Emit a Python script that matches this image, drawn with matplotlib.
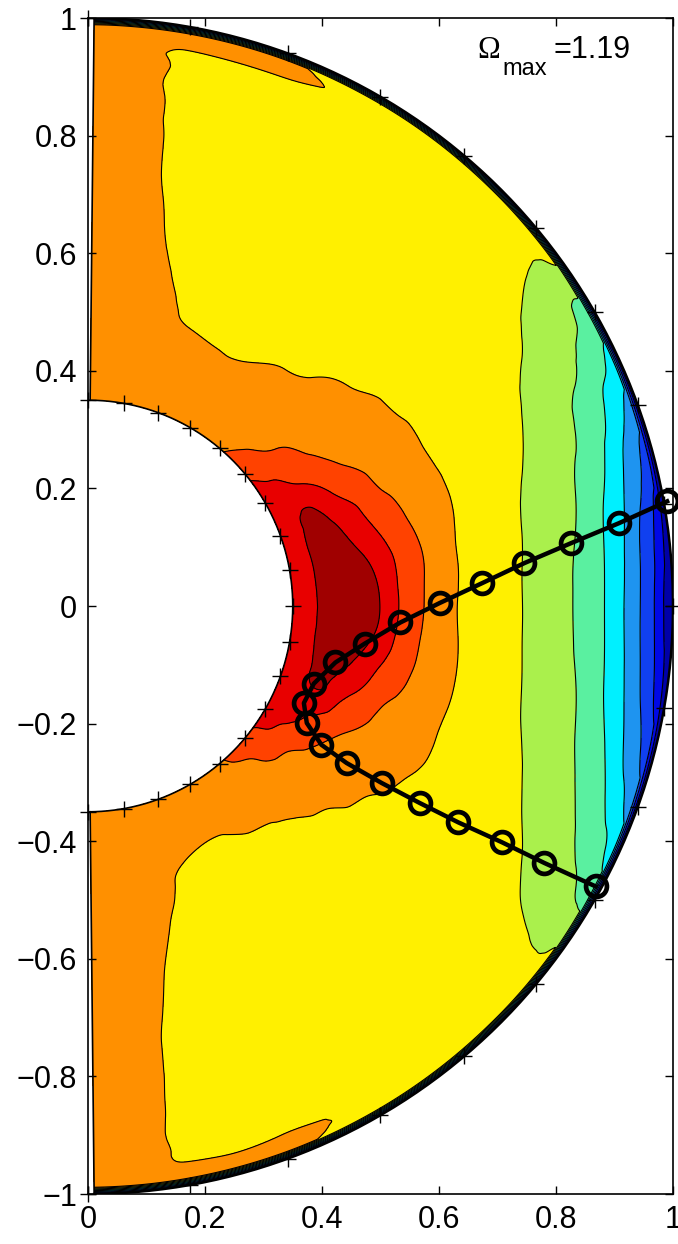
import numpy as np
import matplotlib
matplotlib.use("Agg")
import matplotlib.pyplot as plt
import matplotlib.tri as mtri

# grid of the meridional slice: inner sphere r=0.35, outer sphere r=1
radii = [0.35, 0.38, 0.42, 0.46, 0.50, 0.54, 0.58, 0.62, 0.66, 0.70,
         0.75, 0.80, 0.85, 0.88, 0.91, 0.94, 0.96, 0.975, 0.988, 1.0]

# colatitude (deg) of each row of the table below, north pole -> south pole
colatitudes = [0.6, 5, 10, 20, 30, 40, 45, 50, 55, 60, 65, 70, 75, 80, 85, 90,
               95, 100, 105, 110, 115, 120, 125, 130, 135, 140, 150, 160, 170, 175, 179.4]

# angular velocity, one row per colatitude (inner -> outer radius)
omega = [
    [0.86, 0.86, 0.86, 0.86, 0.86, 0.86, 0.86, 0.86, 0.86, 0.86, 0.855, 0.855, 0.855, 0.85, 0.85, 0.85, 0.85, 0.85, 0.84, 0.0],
    [0.86, 0.86, 0.855, 0.855, 0.85, 0.85, 0.845, 0.845, 0.84, 0.84, 0.835, 0.83, 0.83, 0.828, 0.826, 0.825, 0.825, 0.825, 0.82, 0.0],
    [0.86, 0.855, 0.85, 0.843, 0.835, 0.826, 0.818, 0.812, 0.807, 0.803, 0.798, 0.796, 0.793, 0.791, 0.79, 0.792, 0.80, 0.81, 0.805, 0.0],
    [0.865, 0.855, 0.84, 0.825, 0.802, 0.79, 0.785, 0.78, 0.775, 0.775, 0.772, 0.77, 0.77, 0.77, 0.772, 0.78, 0.802, 0.812, 0.805, 0.0],
    [0.875, 0.86, 0.84, 0.815, 0.795, 0.785, 0.78, 0.775, 0.772, 0.77, 0.77, 0.77, 0.77, 0.77, 0.77, 0.772, 0.78, 0.785, 0.78, 0.0],
    [0.895, 0.88, 0.855, 0.83, 0.81, 0.795, 0.785, 0.78, 0.775, 0.77, 0.768, 0.765, 0.765, 0.765, 0.765, 0.765, 0.765, 0.765, 0.76, 0.0],
    [0.92, 0.898, 0.87, 0.845, 0.825, 0.805, 0.79, 0.783, 0.778, 0.774, 0.77, 0.765, 0.762, 0.76, 0.758, 0.755, 0.752, 0.75, 0.745, 0.0],
    [0.975, 0.94, 0.895, 0.87, 0.85, 0.83, 0.801, 0.788, 0.78, 0.775, 0.77, 0.765, 0.758, 0.75, 0.74, 0.735, 0.73, 0.73, 0.73, 0.0],
    [1.015, 0.995, 0.955, 0.89, 0.86, 0.835, 0.815, 0.795, 0.785, 0.78, 0.775, 0.765, 0.74, 0.72, 0.697, 0.67, 0.655, 0.66, 0.68, 0.0],
    [1.04, 1.03, 0.995, 0.945, 0.885, 0.855, 0.83, 0.805, 0.785, 0.778, 0.768, 0.74, 0.705, 0.679, 0.65, 0.623, 0.604, 0.58, 0.56, 0.0],
    [1.055, 1.075, 1.08, 0.995, 0.94, 0.875, 0.849, 0.817, 0.785, 0.78, 0.755, 0.715, 0.67, 0.641, 0.612, 0.565, 0.529, 0.502, 0.466, 0.0],
    [1.06, 1.085, 1.115, 1.06, 0.982, 0.912, 0.866, 0.826, 0.787, 0.772, 0.74, 0.69, 0.639, 0.609, 0.559, 0.502, 0.444, 0.40, 0.355, 0.0],
    [1.062, 1.08, 1.145, 1.095, 1.015, 0.944, 0.881, 0.831, 0.787, 0.757, 0.715, 0.667, 0.615, 0.569, 0.51, 0.425, 0.362, 0.31, 0.26, 0.0],
    [1.065, 1.075, 1.155, 1.14, 1.057, 0.973, 0.896, 0.826, 0.778, 0.748, 0.703, 0.65, 0.596, 0.535, 0.462, 0.366, 0.296, 0.235, 0.17, 0.0],
    [1.065, 1.075, 1.155, 1.17, 1.087, 0.976, 0.895, 0.822, 0.775, 0.74, 0.695, 0.641, 0.575, 0.516, 0.431, 0.331, 0.252, 0.182, 0.106, 0.0],
    [1.065, 1.075, 1.15, 1.175, 1.097, 0.976, 0.889, 0.815, 0.772, 0.737, 0.693, 0.638, 0.569, 0.508, 0.419, 0.317, 0.235, 0.159, 0.08, 0.0],
    [1.065, 1.075, 1.15, 1.16, 1.083, 0.967, 0.884, 0.819, 0.775, 0.74, 0.695, 0.641, 0.575, 0.516, 0.431, 0.331, 0.252, 0.182, 0.106, 0.0],
    [1.062, 1.075, 1.145, 1.12, 1.037, 0.951, 0.88, 0.824, 0.78, 0.748, 0.703, 0.65, 0.596, 0.535, 0.462, 0.366, 0.296, 0.235, 0.17, 0.0],
    [1.06, 1.075, 1.125, 1.07, 0.991, 0.92, 0.867, 0.822, 0.782, 0.757, 0.715, 0.667, 0.615, 0.569, 0.51, 0.425, 0.362, 0.31, 0.26, 0.0],
    [1.055, 1.085, 1.098, 1.01, 0.945, 0.881, 0.853, 0.816, 0.781, 0.772, 0.74, 0.69, 0.639, 0.609, 0.559, 0.502, 0.444, 0.40, 0.355, 0.0],
    [1.045, 1.065, 1.02, 0.955, 0.90, 0.865, 0.84, 0.81, 0.785, 0.775, 0.755, 0.715, 0.67, 0.641, 0.612, 0.565, 0.529, 0.502, 0.466, 0.0],
    [1.03, 1.02, 0.965, 0.905, 0.87, 0.845, 0.82, 0.793, 0.78, 0.775, 0.765, 0.74, 0.705, 0.679, 0.65, 0.623, 0.604, 0.58, 0.56, 0.0],
    [1.01, 0.985, 0.91, 0.875, 0.85, 0.825, 0.795, 0.785, 0.78, 0.775, 0.77, 0.765, 0.74, 0.72, 0.697, 0.67, 0.655, 0.66, 0.68, 0.0],
    [0.97, 0.93, 0.885, 0.855, 0.825, 0.798, 0.785, 0.78, 0.775, 0.772, 0.77, 0.765, 0.758, 0.75, 0.74, 0.735, 0.73, 0.73, 0.73, 0.0],
    [0.93, 0.89, 0.86, 0.835, 0.805, 0.79, 0.783, 0.778, 0.775, 0.772, 0.77, 0.765, 0.762, 0.76, 0.758, 0.755, 0.752, 0.75, 0.745, 0.0],
    [0.89, 0.87, 0.845, 0.815, 0.792, 0.785, 0.78, 0.777, 0.775, 0.77, 0.768, 0.765, 0.765, 0.765, 0.765, 0.765, 0.765, 0.765, 0.76, 0.0],
    [0.87, 0.85, 0.82, 0.796, 0.787, 0.782, 0.778, 0.775, 0.772, 0.77, 0.77, 0.77, 0.77, 0.77, 0.77, 0.772, 0.78, 0.785, 0.78, 0.0],
    [0.865, 0.855, 0.84, 0.806, 0.792, 0.787, 0.782, 0.778, 0.775, 0.773, 0.772, 0.77, 0.77, 0.77, 0.772, 0.78, 0.802, 0.812, 0.805, 0.0],
    [0.86, 0.855, 0.85, 0.843, 0.835, 0.826, 0.818, 0.812, 0.807, 0.803, 0.798, 0.796, 0.793, 0.791, 0.79, 0.792, 0.80, 0.81, 0.805, 0.0],
    [0.86, 0.86, 0.855, 0.855, 0.85, 0.85, 0.845, 0.845, 0.84, 0.84, 0.835, 0.83, 0.83, 0.828, 0.826, 0.825, 0.825, 0.825, 0.82, 0.0],
    [0.86, 0.86, 0.86, 0.86, 0.86, 0.86, 0.86, 0.86, 0.86, 0.86, 0.855, 0.855, 0.855, 0.85, 0.85, 0.85, 0.85, 0.85, 0.84, 0.0],
]

levels = [0.0, 0.1, 0.2, 0.3, 0.4, 0.5, 0.6, 0.7, 0.8, 0.9, 1.0, 1.1, 1.19]
omega_max = 1.19
# fill colour of each band, as seen in the picture (jet-like)
band_colors = ['#0000a8', '#0008e6', '#1040f0', '#1e94f0', '#00f0ff', '#5af0a0',
               '#aaf04c', '#fff000', '#ff9000', '#ff4200', '#e80000', '#a00000']

# grid points marked on both spheres
mark_colat = [0, 10, 20, 30, 40, 50, 60, 70, 80, 90, 100, 110, 120, 130, 140, 150, 160, 170, 180]

# curve with circles
path_x = [0.99, 0.908, 0.826, 0.746, 0.674, 0.601, 0.534, 0.473, 0.423, 0.386,
          0.369, 0.374, 0.399, 0.442, 0.502, 0.567, 0.633, 0.708, 0.780, 0.868]
path_y = [0.178, 0.141, 0.107, 0.073, 0.039, 0.005, -0.028, -0.064, -0.096, -0.132,
          -0.165, -0.199, -0.236, -0.267, -0.301, -0.335, -0.368, -0.402, -0.437, -0.477]

x_ticks = [0, 0.2, 0.4, 0.6, 0.8, 1]
x_labels = ['0', '0.2', '0.4', '0.6', '0.8', '1']
y_ticks = [-1, -0.8, -0.6, -0.4, -0.2, 0, 0.2, 0.4, 0.6, 0.8, 1]
y_labels = ['\u22121', '\u22120.8', '\u22120.6', '\u22120.4', '\u22120.2', '0',
            '0.2', '0.4', '0.6', '0.8', '1']

plt.rcParams['font.family'] = ['Liberation Sans', 'DejaVu Sans']

th = np.radians(colatitudes)
rr = np.array(radii)
Z = np.array(omega)
n_th, n_r = Z.shape


def grid_triangles(n_a, n_b):
    idx = np.arange(n_a * n_b).reshape(n_a, n_b)
    out = []
    for i in range(n_a - 1):
        for j in range(n_b - 1):
            a, b, c, d = idx[i, j], idx[i + 1, j], idx[i + 1, j + 1], idx[i, j + 1]
            out.append([a, b, c])
            out.append([a, c, d])
    return np.array(out)


# bulk: cubic interpolation in the meridional plane, rows up to the last one
# inside the wall layer, plus a copy of that row a little further out
r_bulk = np.append(rr[:-1], 0.998)
Z_bulk = np.column_stack([Z[:, :-1], Z[:, -2]])
THb, RRb = np.meshgrid(th, r_bulk, indexing='ij')
tri_c = mtri.Triangulation((RRb * np.sin(THb)).ravel(), (RRb * np.cos(THb)).ravel(),
                           grid_triangles(n_th, n_r))
interp = mtri.CubicTriInterpolator(tri_c, Z_bulk.ravel(), kind='min_E')

# fine mesh built in (colatitude, radius) so that both spheres stay round
TH, RR = np.meshgrid(th, rr, indexing='ij')
tri_p = mtri.Triangulation(TH.ravel(), RR.ravel(), grid_triangles(n_th, n_r))
tri_pf = mtri.UniformTriRefiner(tri_p).refine_triangulation(subdiv=4)
th_f, r_f = tri_pf.x, tri_pf.y
xf = r_f * np.sin(th_f)
yf = r_f * np.cos(th_f)

r_wall = rr[-2]
th_s = np.clip(th_f, th[0] + 1e-7, th[-1] - 1e-7)
r_s = np.clip(r_f, rr[0] * (1 + 1e-7), r_wall)
z_f = np.asarray(interp(r_s * np.sin(th_s), r_s * np.cos(th_s)).filled(np.nan))
# thin layer at the outer sphere: value falls to the wall value
wall = r_f > r_wall
frac = (r_f[wall] - r_wall) / (rr[-1] - r_wall)
z_wall = np.interp(th_f[wall], th, Z[:, -1])
z_f[wall] = z_f[wall] * (1 - frac) + z_wall * frac
z_f = np.nan_to_num(z_f, nan=0.0)

tri_xy = mtri.Triangulation(xf, yf, tri_pf.triangles)
fill_levels = [-1.0] + levels[1:-1] + [2.0]

fig = plt.figure(figsize=(6.78, 12.44), dpi=100)
ax = fig.add_axes([88 / 678, 50 / 1244, 585 / 678, 1176 / 1244])

ax.tricontourf(tri_xy, z_f, levels=fill_levels, colors=band_colors)
ax.tricontour(tri_xy, z_f, levels=levels[1:-1], colors='k', linewidths=0.8)

# domain outline
t = np.radians(np.linspace(colatitudes[0], colatitudes[-1], 400))
ax.plot(radii[0] * np.sin(t), radii[0] * np.cos(t), color='k', lw=1.2)
ax.plot(radii[-1] * np.sin(t), radii[-1] * np.cos(t), color='k', lw=1.8)
for c in (colatitudes[0], colatitudes[-1]):
    cr = np.radians(c)
    ax.plot([radii[0] * np.sin(cr), radii[-1] * np.sin(cr)],
            [radii[0] * np.cos(cr), radii[-1] * np.cos(cr)], color='k', lw=1.2)

mk = np.radians(mark_colat)
for rad in (radii[0], radii[-1]):
    ax.plot(rad * np.sin(mk), rad * np.cos(mk), '+', color='k', ms=11, mew=1.0,
            clip_on=False)

ax.plot(path_x, path_y, '-o', color='k', lw=3.2, ms=15, mfc='none', mew=3.4,
        clip_on=False, zorder=5)

ax.text(0.665, 0.932, '\u03a9', fontsize=22, family='Liberation Serif',
        ha='left', va='baseline')
ax.text(0.709, 0.903, 'max', fontsize=17, ha='left', va='baseline')
ax.text(0.795, 0.932, '=%.2f' % omega_max, fontsize=22, ha='left', va='baseline')

ax.set_xlim(0, 1)
ax.set_ylim(-1, 1)
ax.set_xticks(x_ticks)
ax.set_xticklabels(x_labels)
ax.set_yticks(y_ticks)
ax.set_yticklabels(y_labels)
ax.tick_params(direction='in', length=6, width=1, top=True, right=True,
               labelsize=22, pad=8)
for sp in ax.spines.values():
    sp.set_linewidth(1.2)

fig.savefig('out.png', dpi=100)
